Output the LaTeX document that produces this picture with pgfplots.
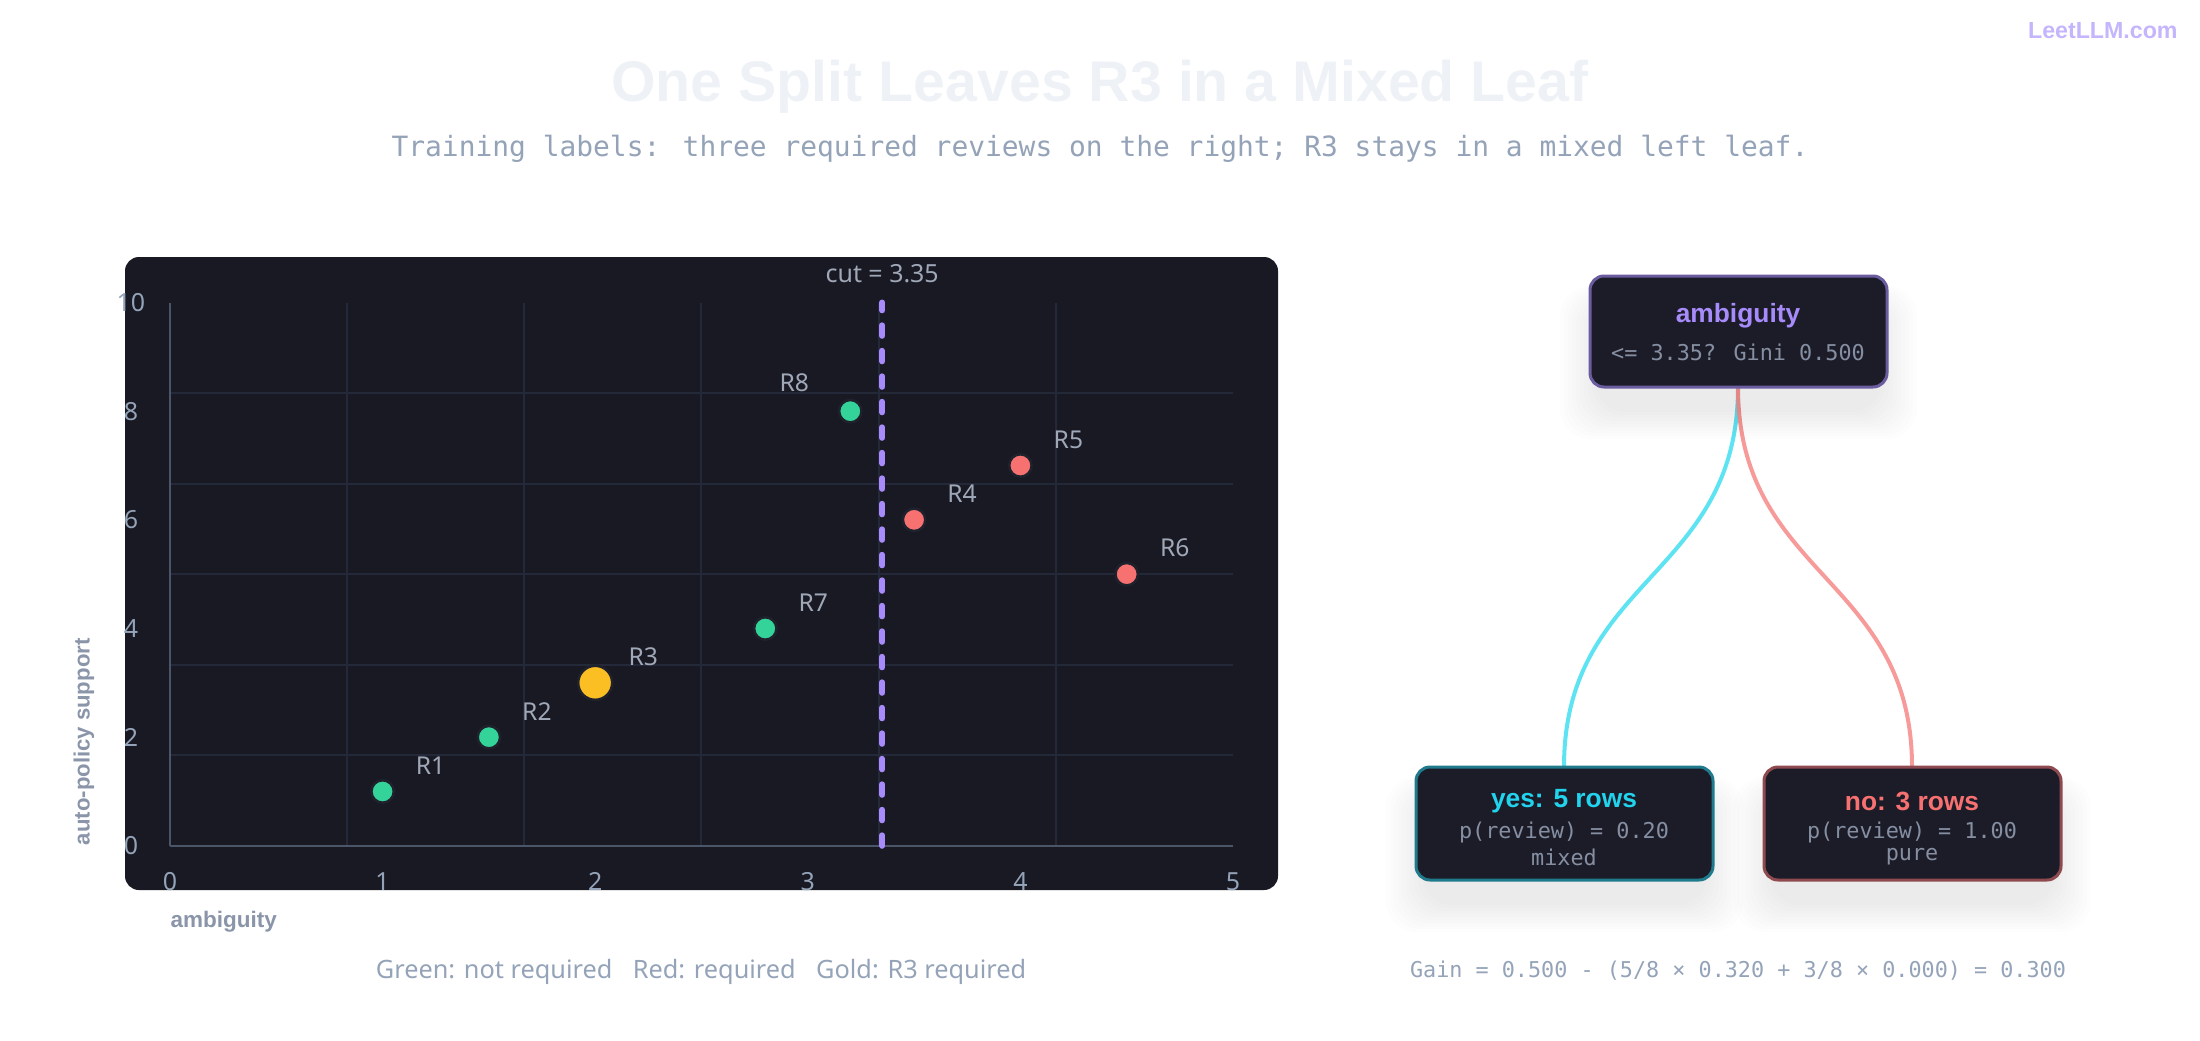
\documentclass[border=0pt]{standalone}
\usepackage{pgfplots}
\pgfplotsset{compat=1.18}
\usepackage{fontspec}
\setmainfont{Noto Sans}
\newfontfamily\bsans{Liberation Sans}
\newfontfamily\mono{DejaVu Sans Mono}

\definecolor{panel}{HTML}{181923}
\definecolor{boxbg}{HTML}{1C1C29}
\definecolor{gridc}{HTML}{232938}
\definecolor{axisc}{HTML}{4A5568}
\definecolor{slate}{HTML}{94A3B8}
\definecolor{lbl}{HTML}{A0A8B8}
\definecolor{axlbl}{HTML}{8B95A9}
\definecolor{monoc}{HTML}{858FA1}
\definecolor{cgreen}{HTML}{34D399}
\definecolor{cred}{HTML}{F87171}
\definecolor{cgold}{HTML}{FBBF24}
\definecolor{cviolet}{HTML}{A78BFA}
\definecolor{ccyan}{HTML}{22D3EE}
\definecolor{linkcyan}{HTML}{5EE3F3}
\definecolor{linkred}{HTML}{F79A9A}
\definecolor{rootedge}{HTML}{6B5B9F}
\definecolor{yesedge}{HTML}{1F7A8C}
\definecolor{noedge}{HTML}{8F4A50}
\definecolor{ring}{HTML}{1F212C}
\definecolor{titlec}{HTML}{EEF2F7}
\definecolor{logoc}{HTML}{C4B5FD}

\newcommand\fs[1]{\fontsize{#1pt}{#1pt}\selectfont}
% soft shadow under a box, corners in picture px
\newcommand\shadowbox[4]{%
  \foreach \i in {1,...,10}{%
    \fill[black, opacity=0.007, rounded corners=3mm]
      (#1+10-\i*4, #2-22-\i*3) rectangle (#3-10+\i*4, #4-30+\i*2);
  }}

\begin{document}
\begin{tikzpicture}[x=0.1mm, y=0.1mm]
\path[use as bounding box] (0,0) rectangle (2200,1040);

% titles
\node[titlec, font=\bsans\fs{16.3}\bfseries] at (1100,953) {One Split Leaves R3 in a Mixed Leaf};
\node[slate, font=\mono\fs{7.94}] at (1100,891) {Training labels: three required reviews on the right; R3 stays in a mixed left leaf.};
\node[logoc, font=\bsans\fs{6.6}\bfseries, anchor=east] at (2190,1009) {LeetLLM.com};

% scatter panel
\fill[panel, rounded corners=1.4mm] (125,150) rectangle (1278,783);

\begin{axis}[
    at={(17mm,19.42mm)}, anchor=south west,
    scale only axis,
    width=106.3mm, height=54.33mm,
    xmin=0, xmax=5, ymin=0, ymax=10,
    clip=false,
    axis x line=bottom, axis y line=left,
    axis line style={axisc, line width=0.25mm, -},
    xtick={0.833333,1.666667,2.5,3.333333,4.166667},
    ytick={1.666667,3.333333,5,6.666667,8.333333},
    xticklabels={}, yticklabels={},
    grid=major,
    major grid style={gridc, line width=0.2mm},
    major tick length=0pt,
    extra x ticks={0,1,2,3,4,5},
    extra y ticks={0,2,4,6,8,10},
    extra x tick style={grid=none, tick label style={anchor=center, yshift=-3.6mm}},
    extra y tick style={grid=none, tick label style={anchor=center, xshift=-3.9mm}},
    tick label style={slate, font=\fs{7.1}},
    /pgf/number format/assume math mode=true,
    xlabel={ambiguity},
    ylabel={auto-policy support},
    xlabel style={at={(axis description cs:0,-0.14)}, anchor=west, inner sep=0pt,
        axlbl, font=\bsans\fs{6.4}\bfseries},
    ylabel style={at={(axis description cs:-0.0809,0)}, anchor=west, inner sep=0pt,
        axlbl, font=\bsans\fs{6.3}\bfseries},
]
% split threshold
\addplot[cviolet, line width=0.6mm, dash pattern=on 1.05mm off 1.5mm, line cap=round]
    coordinates {(3.35,0) (3.35,10)};
\node[lbl, font=\fs{7.1}, yshift=2.9mm] at (axis cs:3.35,10) {cut = 3.35};

% not required
\addplot[only marks, mark=*, mark size=1.12mm, mark options={fill=cgreen, draw=ring, line width=0.25mm}]
    coordinates {(1,1) (1.5,2) (2.8,4) (3.2,8)};
% required
\addplot[only marks, mark=*, mark size=1.12mm, mark options={fill=cred, draw=ring, line width=0.25mm}]
    coordinates {(3.5,6) (4,7) (4.5,5)};
% R3 required
\addplot[only marks, mark=*, mark size=1.7mm, mark options={fill=cgold, draw=ring, line width=0.25mm}]
    coordinates {(2,3)};

\foreach \lab/\px/\py in {R1/1/1, R2/1.5/2, R3/2/3, R7/2.8/4, R4/3.5/6, R5/4/7, R6/4.5/5}{
  \edef\temp{\noexpand\node[lbl, font=\noexpand\fs{7}, xshift=4.8mm, yshift=2.6mm] at (axis cs:\px,\py) {\lab};}
  \temp
}
\node[lbl, font=\fs{7}, xshift=-5.6mm, yshift=2.8mm] at (axis cs:3.2,8) {R8};
\end{axis}

\node[slate, font=\fs{7.2}] at (701,68) {Green: not required\hspace{0.55em} Red: required\hspace{0.55em} Gold: R3 required};

% tree
\draw[linkcyan, line width=0.4mm] (1738,653) .. controls (1738,463) and (1564,463) .. (1564,273);
\draw[linkred, line width=0.4mm] (1738,653) .. controls (1738,463) and (1912,463) .. (1912,273);

\shadowbox{1590}{653}{1887}{764}
\shadowbox{1416}{160}{1713}{273}
\shadowbox{1764}{160}{2061}{273}

\filldraw[fill=boxbg, draw=rootedge, line width=0.3mm, rounded corners=1.4mm] (1590,653) rectangle (1887,764);
\filldraw[fill=boxbg, draw=yesedge, line width=0.3mm, rounded corners=1.4mm] (1416,160) rectangle (1713,273);
\filldraw[fill=boxbg, draw=noedge, line width=0.3mm, rounded corners=1.4mm] (1764,160) rectangle (2061,273);

\node[cviolet, font=\bsans\fs{7.5}\bfseries] at (1738,724) {ambiguity};
\node[monoc, font=\mono\fs{6.2}] at (1738,688) {<= 3.35? Gini 0.500};

\node[ccyan, font=\bsans\fs{7.5}\bfseries] at (1564,239) {yes: 5 rows};
\node[monoc, font=\mono\fs{6.2}] at (1564,208) {p(review) = 0.20};
\node[monoc, font=\mono\fs{6.2}] at (1564,183) {mixed};

\node[cred, font=\bsans\fs{7.5}\bfseries] at (1912,239) {no: 3 rows};
\node[monoc, font=\mono\fs{6.2}] at (1912,208) {p(review) = 1.00};
\node[monoc, font=\mono\fs{6.2}] at (1912,183) {pure};

\node[slate, font=\mono\fs{6.2}] at (1738,69) {Gain = 0.500 - (5/8 × 0.320 + 3/8 × 0.000) = 0.300};
\end{tikzpicture}
\end{document}
